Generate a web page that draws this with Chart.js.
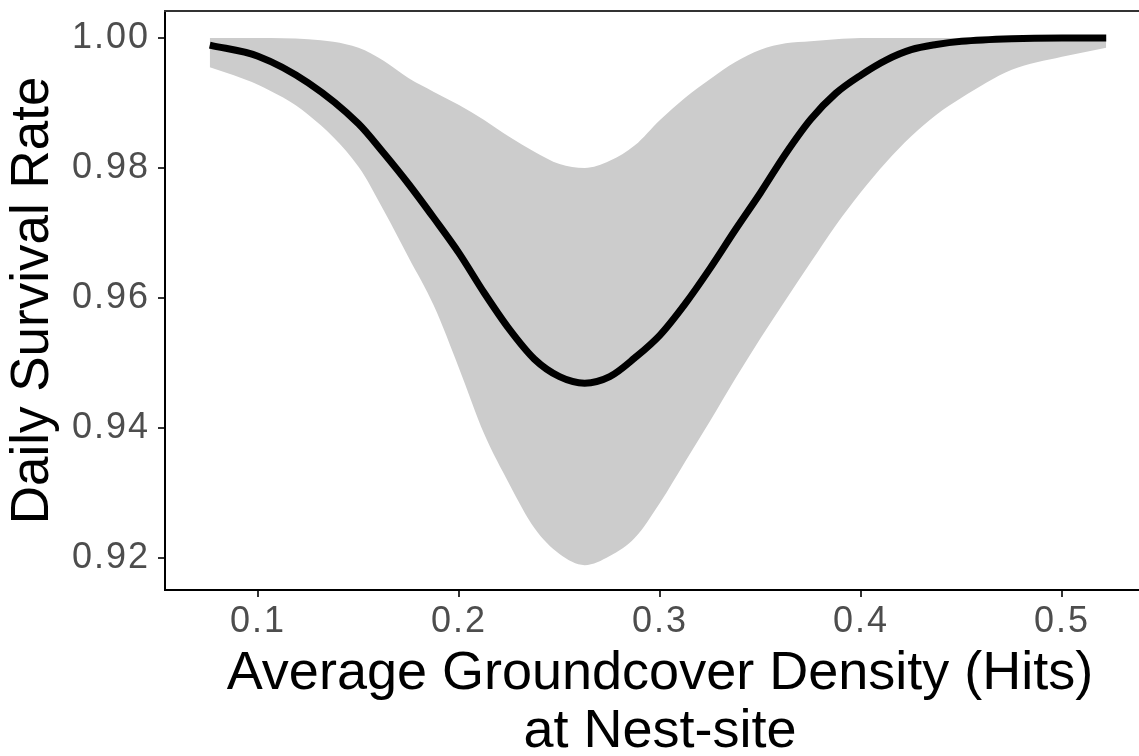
<!DOCTYPE html>
<html>
<head>
<meta charset="utf-8">
<script src="https://cdn.jsdelivr.net/npm/chart.js@4"></script>
<style>
  html, body { margin: 0; padding: 0; background: #fff; }
  canvas { display: block; }
</style>
</head>
<body>
<canvas id="dsrChart" width="1139" height="756"></canvas>
<script>
// values
const groundcover = [0.076, 0.1, 0.125, 0.15, 0.1625, 0.175, 0.1875, 0.2, 0.2125, 0.225, 0.2375, 0.25, 0.2625, 0.275, 0.2875,
                     0.3, 0.3125, 0.325, 0.3375, 0.35, 0.3625, 0.375, 0.3875, 0.4, 0.4125, 0.425, 0.4375, 0.45, 0.475, 0.5, 0.522];
const dsrFit   = [0.9989, 0.9972, 0.9931, 0.9868, 0.9823, 0.9775, 0.9723, 0.9669, 0.9608, 0.9552, 0.9506, 0.9479, 0.9469, 0.9479, 0.9508,
                  0.9543, 0.9591, 0.9646, 0.9705, 0.9762, 0.9822, 0.9875, 0.9915, 0.9943, 0.9966, 0.9982, 0.9990, 0.9995, 0.9999, 1.0000, 1.0000];
const dsrUpper = [1.0000, 1.0000, 0.9998, 0.9985, 0.9965, 0.9938, 0.9917, 0.9897, 0.9874, 0.9848, 0.9825, 0.9806, 0.9800, 0.9811, 0.9835,
                  0.9874, 0.9908, 0.9937, 0.9963, 0.9982, 0.9992, 0.9995, 0.9998, 1.0000, 1.0000, 1.0000, 1.0000, 1.0000, 1.0000, 1.0000, 1.0000];
const dsrLower = [0.9955, 0.9928, 0.9882, 0.9802, 0.9735, 0.9662, 0.9588, 0.9492, 0.9391, 0.9314, 0.9246, 0.9206, 0.9189, 0.9203, 0.9231,
                  0.9285, 0.9348, 0.9411, 0.9476, 0.9538, 0.9597, 0.9655, 0.9712, 0.9763, 0.9809, 0.9849, 0.9882, 0.9908, 0.9951, 0.9971, 0.9985];
const yTicks = [0.92, 0.94, 0.96, 0.98, 1.00];
const xTicks = [0.1, 0.2, 0.3, 0.4, 0.5];

const toPoints = (ys) => groundcover.map((x, i) => ({ x: x, y: ys[i] }));

Chart.defaults.font.family = "'Liberation Sans', Arial, sans-serif";

// top frame line, a bit of spacing on the tick labels,
// and centre the x title on the full panel (it runs past the picture's right edge)
const framePlugin = {
  id: 'framePlugin',
  beforeDraw(chart) {
    chart.scales.x.right = chart.chartArea.right + 16;
  },
  afterDatasetsDraw(chart) {
    chart.ctx.letterSpacing = '2px';
  },
  afterDraw(chart) {
    const { ctx, chartArea } = chart;
    ctx.letterSpacing = '0px';
    ctx.save();
    ctx.strokeStyle = '#333333';
    ctx.lineWidth = 2;
    ctx.beginPath();
    ctx.moveTo(chartArea.left - 1, chartArea.top);
    ctx.lineTo(chartArea.right, chartArea.top);
    ctx.stroke();
    ctx.restore();
  }
};

new Chart(document.getElementById('dsrChart'), {
  type: 'line',
  data: {
    datasets: [
      {
        label: 'fit',
        data: toPoints(dsrFit),
        borderColor: '#000000',
        borderWidth: 7,
        borderCapStyle: 'butt',
        pointRadius: 0,
        fill: false,
        cubicInterpolationMode: 'monotone',
      },
      {
        label: 'upper',
        data: toPoints(dsrUpper),
        borderWidth: 0,
        borderColor: 'rgba(0,0,0,0)',
        backgroundColor: '#CCCCCC',
        pointRadius: 0,
        fill: '+1',
        cubicInterpolationMode: 'monotone',
      },
      {
        label: 'lower',
        data: toPoints(dsrLower),
        borderWidth: 0,
        borderColor: 'rgba(0,0,0,0)',
        pointRadius: 0,
        fill: false,
        cubicInterpolationMode: 'monotone',
      },
    ],
  },
  options: {
    responsive: false,
    animation: false,
    devicePixelRatio: 1,
    layout: { padding: { top: 11, left: 0, right: 0, bottom: 0 } },
    plugins: {
      legend: { display: false },
      tooltip: { enabled: false },
    },
    scales: {
      x: {
        type: 'linear',
        min: 0.053731,
        max: 0.538308,
        afterBuildTicks: (scale) => { scale.ticks = xTicks.map(v => ({ value: v })); },
        afterFit: (scale) => {
          scale.height = 166;
          scale.paddingLeft = 0;
          scale.paddingRight = 0;
        },
        ticks: {
          autoSkip: false,
          maxRotation: 0,
          color: '#4D4D4D',
          font: { size: 36, lineHeight: 1 },
          padding: 7,
          z: 1,
          callback: (v) => Number(v).toFixed(1),
        },
        grid: {
          display: true,
          drawOnChartArea: false,
          drawTicks: true,
          tickLength: 7,
          color: '#333333',
          lineWidth: 2,
        },
        border: { display: true, color: '#000000', width: 2 },
        title: {
          display: true,
          text: ['Average Groundcover Density (Hits)', 'at Nest-site'],
          color: '#000000',
          font: { size: 54, lineHeight: 1.074 },
          padding: { top: 0, bottom: -5 },
        },
      },
      y: {
        type: 'linear',
        min: 0.915077,
        max: 1.004154,
        afterBuildTicks: (scale) => { scale.ticks = yTicks.map(v => ({ value: v })); },
        afterFit: (scale) => {
          scale.width = 165;
          scale.paddingTop = 0;
          scale.paddingBottom = 0;
        },
        ticks: {
          autoSkip: false,
          color: '#4D4D4D',
          font: { size: 36, lineHeight: 1 },
          padding: 8,
          z: 1,
          callback: (v) => Number(v).toFixed(2),
        },
        grid: {
          display: true,
          drawOnChartArea: false,
          drawTicks: true,
          tickLength: 7,
          color: '#333333',
          lineWidth: 2,
        },
        border: { display: true, color: '#000000', width: 2 },
        title: {
          display: true,
          text: 'Daily Survival Rate',
          color: '#000000',
          font: { size: 53, lineHeight: 1 },
          padding: { top: 7, bottom: 0 },
        },
      },
    },
  },
  plugins: [framePlugin],
});
</script>
</body>
</html>
